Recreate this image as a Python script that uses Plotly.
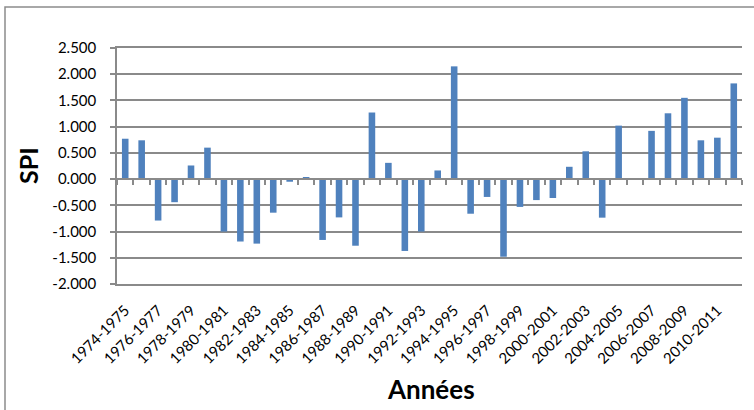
import plotly.graph_objects as go

categories = [f"{y}-{y+1}" for y in range(1974, 2012)]
spi_values = [0.77, 0.74, -0.79, -0.44, 0.26, 0.60, -1.00, -1.19, -1.23, -0.64,
              -0.05, 0.04, -1.16, -0.73, -1.27, 1.27, 0.31, -1.37, -1.00, 0.165,
              2.15, -0.66, -0.34, -1.48, -0.53, -0.40, -0.36, 0.235, 0.53, -0.735,
              1.02, 0.02, 0.92, 1.255, 1.55, 0.74, 0.79, 1.825]
y_tick_values = [-2.0, -1.5, -1.0, -0.5, 0.0, 0.5, 1.0, 1.5, 2.0, 2.5]
y_tick_labels = ["-2.000", "-1.500", "-1.000", "-0.500", "0.000",
                 "0.500", "1.000", "1.500", "2.000", "2.500"]
x_tick_labels = categories[::2]
x_title = "Années"
y_title = "SPI"

# pixel geometry helpers (plot area 117..742 x, 48..284 y)
L, R, T, B = 117, 742, 48, 284
W, H = 754, 410
def px(x):
    return (x - L) / (R - L)
def py(y):
    return (B - y) / (B - T)

GRID = "#8a8a8a"
FONT = "Lato"

fig = go.Figure()
fig.add_trace(go.Bar(x=categories, y=spi_values, marker_color="#4F81BD",
                     marker_line_width=0, xaxis="x", yaxis="y", hoverinfo="x+y"))
fig.add_trace(go.Scatter(x=categories, y=spi_values, mode="markers",
                         marker_opacity=0, xaxis="x2", yaxis="y",
                         showlegend=False, hoverinfo="skip"))

fig.update_layout(
    width=W, height=H,
    margin=dict(l=L, r=W - R, t=T, b=H - B, autoexpand=False),
    paper_bgcolor="white", plot_bgcolor="white",
    showlegend=False, bargap=0.6,
    font=dict(family=FONT, color="black"),
    xaxis=dict(
        type="category", categoryorder="array", categoryarray=categories,
        range=[-0.5, len(categories) - 0.5],
        tickmode="array", tickvals=x_tick_labels, ticktext=x_tick_labels,
        tickangle=-45, tickfont=dict(size=15, family=FONT, color="black"),
        ticklabelstandoff=10,
        showgrid=False, showline=True, linecolor=GRID, linewidth=1.5, mirror=True,
        ticks="", zeroline=False,
    ),
    xaxis2=dict(
        type="category", categoryorder="array", categoryarray=categories,
        range=[-0.5, len(categories) - 0.5],
        overlaying="x", anchor="free", position=2 / 4.5, side="bottom",
        showticklabels=False, tickmode="linear", dtick=1, tickson="boundaries",
        ticks="outside", ticklen=5, tickcolor=GRID, tickwidth=1.5,
        showline=True, linecolor=GRID, linewidth=1.5, showgrid=False,
        zeroline=False,
    ),
    yaxis=dict(
        range=[-2.0, 2.5], tickmode="array", tickvals=y_tick_values,
        ticktext=y_tick_labels, tickfont=dict(size=15, family=FONT, color="black"),
        ticklabelstandoff=11,
        showgrid=True, gridcolor=GRID, gridwidth=1.5,
        showline=True, linecolor=GRID, linewidth=1.5,
        ticks="outside", ticklen=5, tickcolor=GRID, tickwidth=1.5,
        zeroline=False,
    ),
    shapes=[dict(type="rect", xref="paper", yref="paper",
                 x0=px(5), x1=px(765), y0=py(430), y1=py(7),
                 line=dict(color="#8c8c8c", width=1.5), layer="below")],
    annotations=[
        dict(text=f"<b>{y_title}</b>", xref="paper", yref="paper",
             x=px(28), y=py(166), xanchor="center", yanchor="middle",
             textangle=-90, showarrow=False,
             font=dict(size=25, family=FONT, color="black")),
        dict(text=f"<b>{x_title}</b>", xref="paper", yref="paper",
             x=px(431), y=py(389), xanchor="center", yanchor="middle",
             showarrow=False, font=dict(size=26, family=FONT, color="black")),
    ],
)

fig.write_html("out.html", config={"displayModeBar": False},
               post_script=["document.body.style.margin='0';document.body.style.overflow='hidden';"])
